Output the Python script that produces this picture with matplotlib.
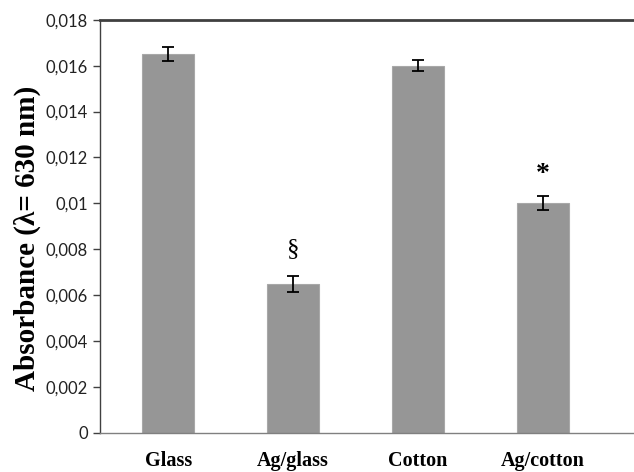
import numpy as np
import matplotlib.pyplot as plt
from matplotlib.ticker import FuncFormatter

samples = ["Glass", "Ag/glass", "Cotton", "Ag/cotton"]
absorbance = [0.0165, 0.0065, 0.0160, 0.0100]
errors = [0.0003, 0.00035, 0.00025, 0.0003]
marks = ["", "§", "", "*"]

fig = plt.figure(figsize=(6.34, 4.72), dpi=100)
ax = fig.add_axes([0.158, 0.083, 0.842, 0.875])

x = np.arange(len(samples))
ax.bar(x, absorbance, width=0.42, color="#969696", edgecolor="#a8a8a8", linewidth=0.8)
ax.errorbar(x, absorbance, yerr=errors, fmt="none", ecolor="black",
            elinewidth=1.3, capsize=4, capthick=1.3)

for xi, val, err, m in zip(x, absorbance, errors, marks):
    if m == "§":
        ax.text(xi, val + err + 0.0007, m, ha="center", va="bottom",
                fontsize=18, family="Liberation Serif")
    elif m:
        ax.text(xi, val + err + 0.0004, m, ha="center", va="bottom",
                fontsize=20, fontweight="bold", family="Liberation Serif")

ax.set_ylim(0, 0.018)
ax.set_xlim(-0.545, 3.73)
ax.set_yticks(np.arange(0, 0.0181, 0.002))
ax.yaxis.set_major_formatter(FuncFormatter(lambda v, p: "0" if v == 0 else f"{v:g}".replace(".", ",")))
ax.set_xticks(x)
ax.set_xticklabels(samples, fontsize=14.5, fontweight="bold", family="Liberation Serif")
ax.tick_params(axis="x", length=0, pad=13)
ax.tick_params(axis="y", length=5, direction="out", width=1, color="#404040",
               labelsize=12, labelcolor="#222222", pad=4)
for lab in ax.get_yticklabels():
    lab.set_family("Lato")

ax.set_ylabel("Absorbance (λ= 630 nm)", fontsize=21, fontweight="bold",
              family="Liberation Serif", va="center")
ax.yaxis.set_label_coords(-0.137, 0.472)

ax.spines["right"].set_visible(False)
ax.spines["top"].set_color("#404040")
ax.spines["top"].set_linewidth(2)
ax.spines["left"].set_color("#404040")
ax.spines["left"].set_linewidth(1)
ax.spines["bottom"].set_color("#808080")
ax.spines["bottom"].set_linewidth(1)

fig.savefig("out.png", dpi=100)
